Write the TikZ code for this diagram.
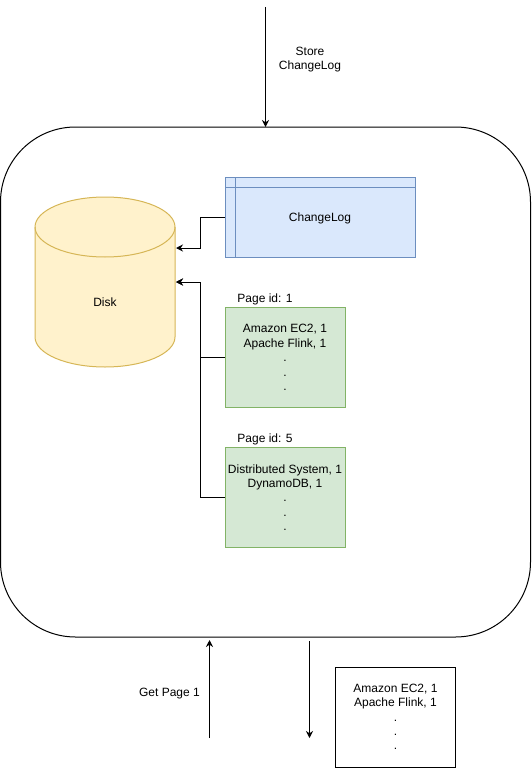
\documentclass[tikz,border=0pt]{standalone}
\usepackage{fontspec}
\setmainfont{Liberation Sans}
\usepackage{tikz}
\usetikzlibrary{arrows.meta,positioning,calc}
\usepackage{xcolor}
\definecolor{cyellow}{HTML}{FFF2CC}
\definecolor{cyellowline}{HTML}{D6B656}
\definecolor{cblue}{HTML}{DAE8FC}
\definecolor{cblueline}{HTML}{6C8EBF}
\definecolor{cgreen}{HTML}{D5E8D4}
\definecolor{cgreenline}{HTML}{82B366}

\begin{document}
\begin{tikzpicture}[
  x=1pt, y=-1pt,
  font=\fontsize{12}{14.4}\selectfont,
  node distance=40pt,
  page/.style={draw=cgreenline, fill=cgreen, align=center, minimum width=120pt, minimum height=100pt,
               inner sep=0pt, outer sep=0pt, text depth=0pt, line width=1pt},
  result/.style={draw=black, fill=white, align=center, minimum width=120pt, minimum height=100pt,
                 inner sep=0pt, outer sep=0pt, text depth=0pt, line width=1pt},
  lab/.style={align=center, inner sep=0pt, text depth=0pt},
  arr/.style={-{Stealth[length=7pt,width=7pt]}, line width=1pt, black},
]
\useasboundingbox (0,0) rectangle (531,768);
% ---------- outer server ----------
\node[draw=black, line width=1pt, rounded corners=75pt, minimum width=530pt, minimum height=510pt,
      inner sep=0pt, outer sep=0pt] (server) at (265.5,382) {};
% ---------- disk and changelog ----------
\draw[cyellowline, fill=cyellow, line width=1pt] (35,227)
  arc[x radius=70, y radius=30, start angle=180, end angle=360] -- (175,337)
  arc[x radius=70, y radius=30, start angle=0, end angle=180] -- cycle;
\draw[cyellowline, line width=1pt] (35,227) arc[x radius=70, y radius=30, start angle=180, end angle=0];
\node[lab] (disk) at (105,302) {Disk};
\node[draw=cblueline, fill=cblue, line width=1pt, minimum width=190pt, minimum height=80pt,
      inner sep=0pt, outer sep=0pt, text depth=0pt] (log) at (320,217.5) {ChangeLog};
\draw[cblueline, line width=1pt] ($(log.north west)+(10,0)$) -- ($(log.south west)+(10,0)$);
\draw[cblueline, line width=1pt] ($(log.north west)+(0,10)$) -- ($(log.north east)+(0,10)$);
% ---------- pages ----------
\node[page, below=50pt of log.south west, anchor=north west] (page1)
  {Amazon EC2, 1\\Apache Flink, 1\\.\\.\\.};
\node[page, below=of page1] (page5)
  {Distributed System, 1\\DynamoDB, 1\\.\\.\\.};
\node[lab, above=4.5pt of page1.north, xshift=-20pt] (id1) {Page id: 1};
\node[lab, above=4.5pt of page5.north, xshift=-20pt] (id5) {Page id: 5};
% ---------- ports on the disk ----------
\coordinate (diskin1) at (176,248);
\coordinate (diskin2) at (176,282);
\draw[arr] (log.west) -- ++(-25,0) |- (diskin1);
\draw[arr] (page1.west) -- ++(-25,0) |- (diskin2);
\draw[arr] (page5.west) -- ++(-25,0) |- (diskin2);
% ---------- requests ----------
\coordinate (storetop) at (265.5,7);
\coordinate (gettail) at (209.5,738);
\coordinate (gethead) at (209.5,640);
\coordinate (rettail) at (309.5,641);
\coordinate (rethead) at (309.5,738);
\draw[arr] (storetop) -- (storetop |- server.north);
\draw[arr] (gettail) -- (gethead);
\draw[arr] (rettail) -- (rethead);
\node[lab] (storelab) at (310,58.5) {Store\\ChangeLog};
\node[lab] (getlab) at (169.5,692.5) {Get Page 1};
\node[result] (answer) at (395.5,717) {Amazon EC2, 1\\Apache Flink, 1\\.\\.\\.};
\end{tikzpicture}
\end{document}
